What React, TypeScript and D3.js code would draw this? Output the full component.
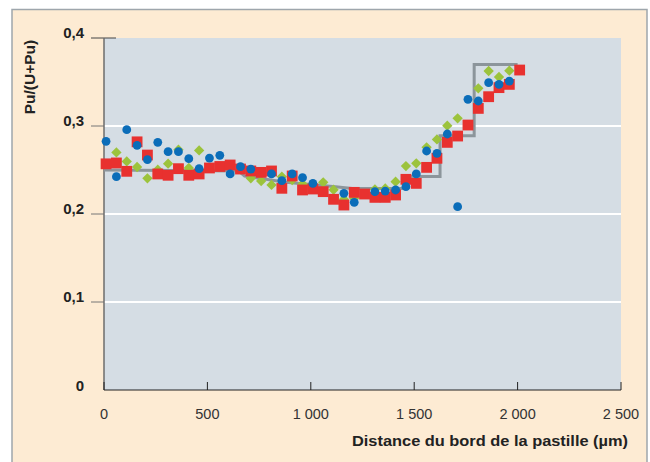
import React from "react";
import * as d3 from "d3";

// Distance (µm) of each measurement
const distances: number[] = d3.range(0, 41).map((k) => 10 + 50 * k);

// Series values (Pu/(U+Pu)); null = not visible
const seriesRed: (number | null)[] = [
  0.257, 0.258, 0.2485, 0.282, 0.267, 0.2455, 0.244, 0.2515, 0.244, 0.2455,
  0.2523, 0.254, 0.2557, 0.2511, 0.2489, 0.2473, 0.2489, 0.2292, 0.2432, 0.2273,
  0.2284, 0.2254, 0.2167, 0.2102, 0.2246, 0.2227, 0.2189, 0.2189, 0.2216, 0.2394,
  0.2348, 0.253, 0.2633, 0.2814, 0.2886, 0.3011, 0.32, 0.3333, 0.3436, 0.3473,
  0.3636,
];
const seriesBlue: (number | null)[] = [
  0.2826, 0.2424, 0.2958, 0.278, 0.2617, 0.2814, 0.2708, 0.2708, 0.2629, 0.2515,
  0.2636, 0.2667, 0.2455, 0.2538, 0.2511, null, 0.2455, 0.2379, 0.2455, 0.2413,
  0.2348, null, null, 0.2235, 0.2133, null, 0.2254, 0.2261, 0.2273, 0.231,
  0.2455, 0.2716, 0.2689, 0.2909, 0.2083, 0.3303, 0.3284, 0.3492, 0.3473, 0.3511,
  null,
];
const seriesGreen: (number | null)[] = [
  null, 0.27, 0.2598, 0.2534, 0.2405, 0.2504, 0.2572, 0.2731, 0.2523, 0.2723,
  null, null, null, null, 0.2405, 0.2375, 0.233, 0.2424, 0.2386, 0.2341,
  0.234, 0.236, 0.2276, 0.2167, 0.2178, null, 0.228, 0.229, 0.2367, 0.2545,
  0.2576, 0.2758, 0.2848, 0.3004, 0.3087, null, 0.3428, 0.3625, 0.3557, 0.3629,
  null,
];

// Reference profile (grey step line)
const profileX: number[] = [0, 650, 680, 880, 1120, 1200, 1445, 1465, 1625, 1625, 1790, 1790, 2000];
const profileY: number[] = [0.25, 0.249, 0.243, 0.236, 0.231, 0.229, 0.229, 0.2425, 0.2425, 0.289, 0.289, 0.37, 0.37];

const xTicks: number[] = [0, 500, 1000, 1500, 2000, 2500];
const xTickLabels: string[] = ["0", "500", "1 000", "1 500", "2 000", "2 500"];
const yTicks: number[] = [0, 0.1, 0.2, 0.3, 0.4];
const yTickLabels: string[] = ["0", "0,1", "0,2", "0,3", "0,4"];

const W = 650;
const H = 462;
const plot = { left: 104, right: 621, top: 38, bottom: 390 };

export default function App() {
  const x = d3.scaleLinear().domain([0, 2500]).range([plot.left, plot.right]);
  const y = d3.scaleLinear().domain([0, 0.4]).range([plot.bottom, plot.top]);

  const profile = profileX.map((d, i) => [d, profileY[i]] as [number, number]);
  const lineGen = d3
    .line<[number, number]>()
    .x((d) => x(d[0]))
    .y((d) => y(d[1]));

  const diamond = d3.symbol().type(d3.symbolDiamond2).size(68);
  const font = "Liberation Sans, Arial, sans-serif";

  return (
    <svg
      width={W}
      height={H}
      style={{ position: "absolute", left: 0, top: 0 }}
      fontFamily={font}
    >
      <rect x={0} y={0} width={W} height={H} fill="#ffffff" />
      <rect x={12} y={9.5} width={635} height={470} fill="#FDEBD3" stroke="#9EA6AC" strokeWidth={1.5} />
      {/* plot background */}
      <rect
        x={plot.left}
        y={plot.top}
        width={plot.right - plot.left}
        height={plot.bottom - plot.top}
        fill="#D5DDE4"
      />
      {/* gridlines */}
      {yTicks.slice(1, 4).map((t) => (
        <line key={"g" + t} x1={plot.left} x2={plot.right} y1={y(t)} y2={y(t)} stroke="#ffffff" strokeWidth={2} />
      ))}
      {/* y ticks */}
      {yTicks.slice(1).map((t) => (
        <line
          key={"yt" + t}
          x1={91}
          x2={t === 0.4 ? 116 : plot.left}
          y1={y(t)}
          y2={y(t)}
          stroke={t === 0.4 ? "#444" : "#777"}
          strokeWidth={1}
        />
      ))}
      {/* y axis */}
      <line x1={plot.left} x2={plot.left} y1={plot.top} y2={plot.bottom} stroke="#6d6d6d" strokeWidth={1.5} />
      {yTicks.map((t, i) => (
        <text
          key={"yl" + t}
          x={84}
          y={y(t) + (t === 0 ? 1 : 0)}
          textAnchor="end"
          fontSize={15}
          fontWeight="bold"
          fill="#222"
        >
          {yTickLabels[i]}
        </text>
      ))}
      {/* step profile */}
      <path d={lineGen(profile) || ""} fill="none" stroke="#8C959B" strokeWidth={3} />
      {/* green diamonds */}
      {seriesGreen.map((v, i) =>
        v === null ? null : (
          <path
            key={"gr" + i}
            d={diamond() || ""}
            transform={`translate(${x(distances[i])},${y(v)})`}
            fill="#9CC33C"
          />
        )
      )}
      {/* red squares */}
      {seriesRed.map((v, i) =>
        v === null ? null : (
          <rect
            key={"r" + i}
            x={x(distances[i]) - 5.4}
            y={y(v) - 5.4}
            width={10.8}
            height={10.8}
            fill="#E8312F"
          />
        )
      )}
      {/* blue circles */}
      {seriesBlue.map((v, i) =>
        v === null ? null : (
          <circle key={"b" + i} cx={x(distances[i])} cy={y(v)} r={4.4} fill="#0B6DB9" />
        )
      )}
      {/* x axis */}
      <line x1={plot.left} x2={plot.right} y1={plot.bottom} y2={plot.bottom} stroke="#222" strokeWidth={1.2} />
      {xTicks.map((t, i) => (
        <g key={"xt" + t}>
          <line x1={x(t)} x2={x(t)} y1={plot.bottom} y2={plot.bottom - 8} stroke="#222" strokeWidth={1} />
          <text x={x(t)} y={419} textAnchor="middle" fontSize={14.5} fill="#333">
            {xTickLabels[i]}
          </text>
        </g>
      ))}
      <text
        x={628}
        y={446}
        textAnchor="end"
        fontSize={15.5}
        fontWeight="bold"
        fill="#222"
        textLength={276}
        lengthAdjust="spacingAndGlyphs"
      >
        Distance du bord de la pastille (µm)
      </text>
      <text
        transform={`translate(35,77) rotate(-90)`}
        textAnchor="middle"
        fontSize={15.5}
        fontWeight="bold"
        fill="#222"
      >
        Pu/(U+Pu)
      </text>
    </svg>
  );
}
